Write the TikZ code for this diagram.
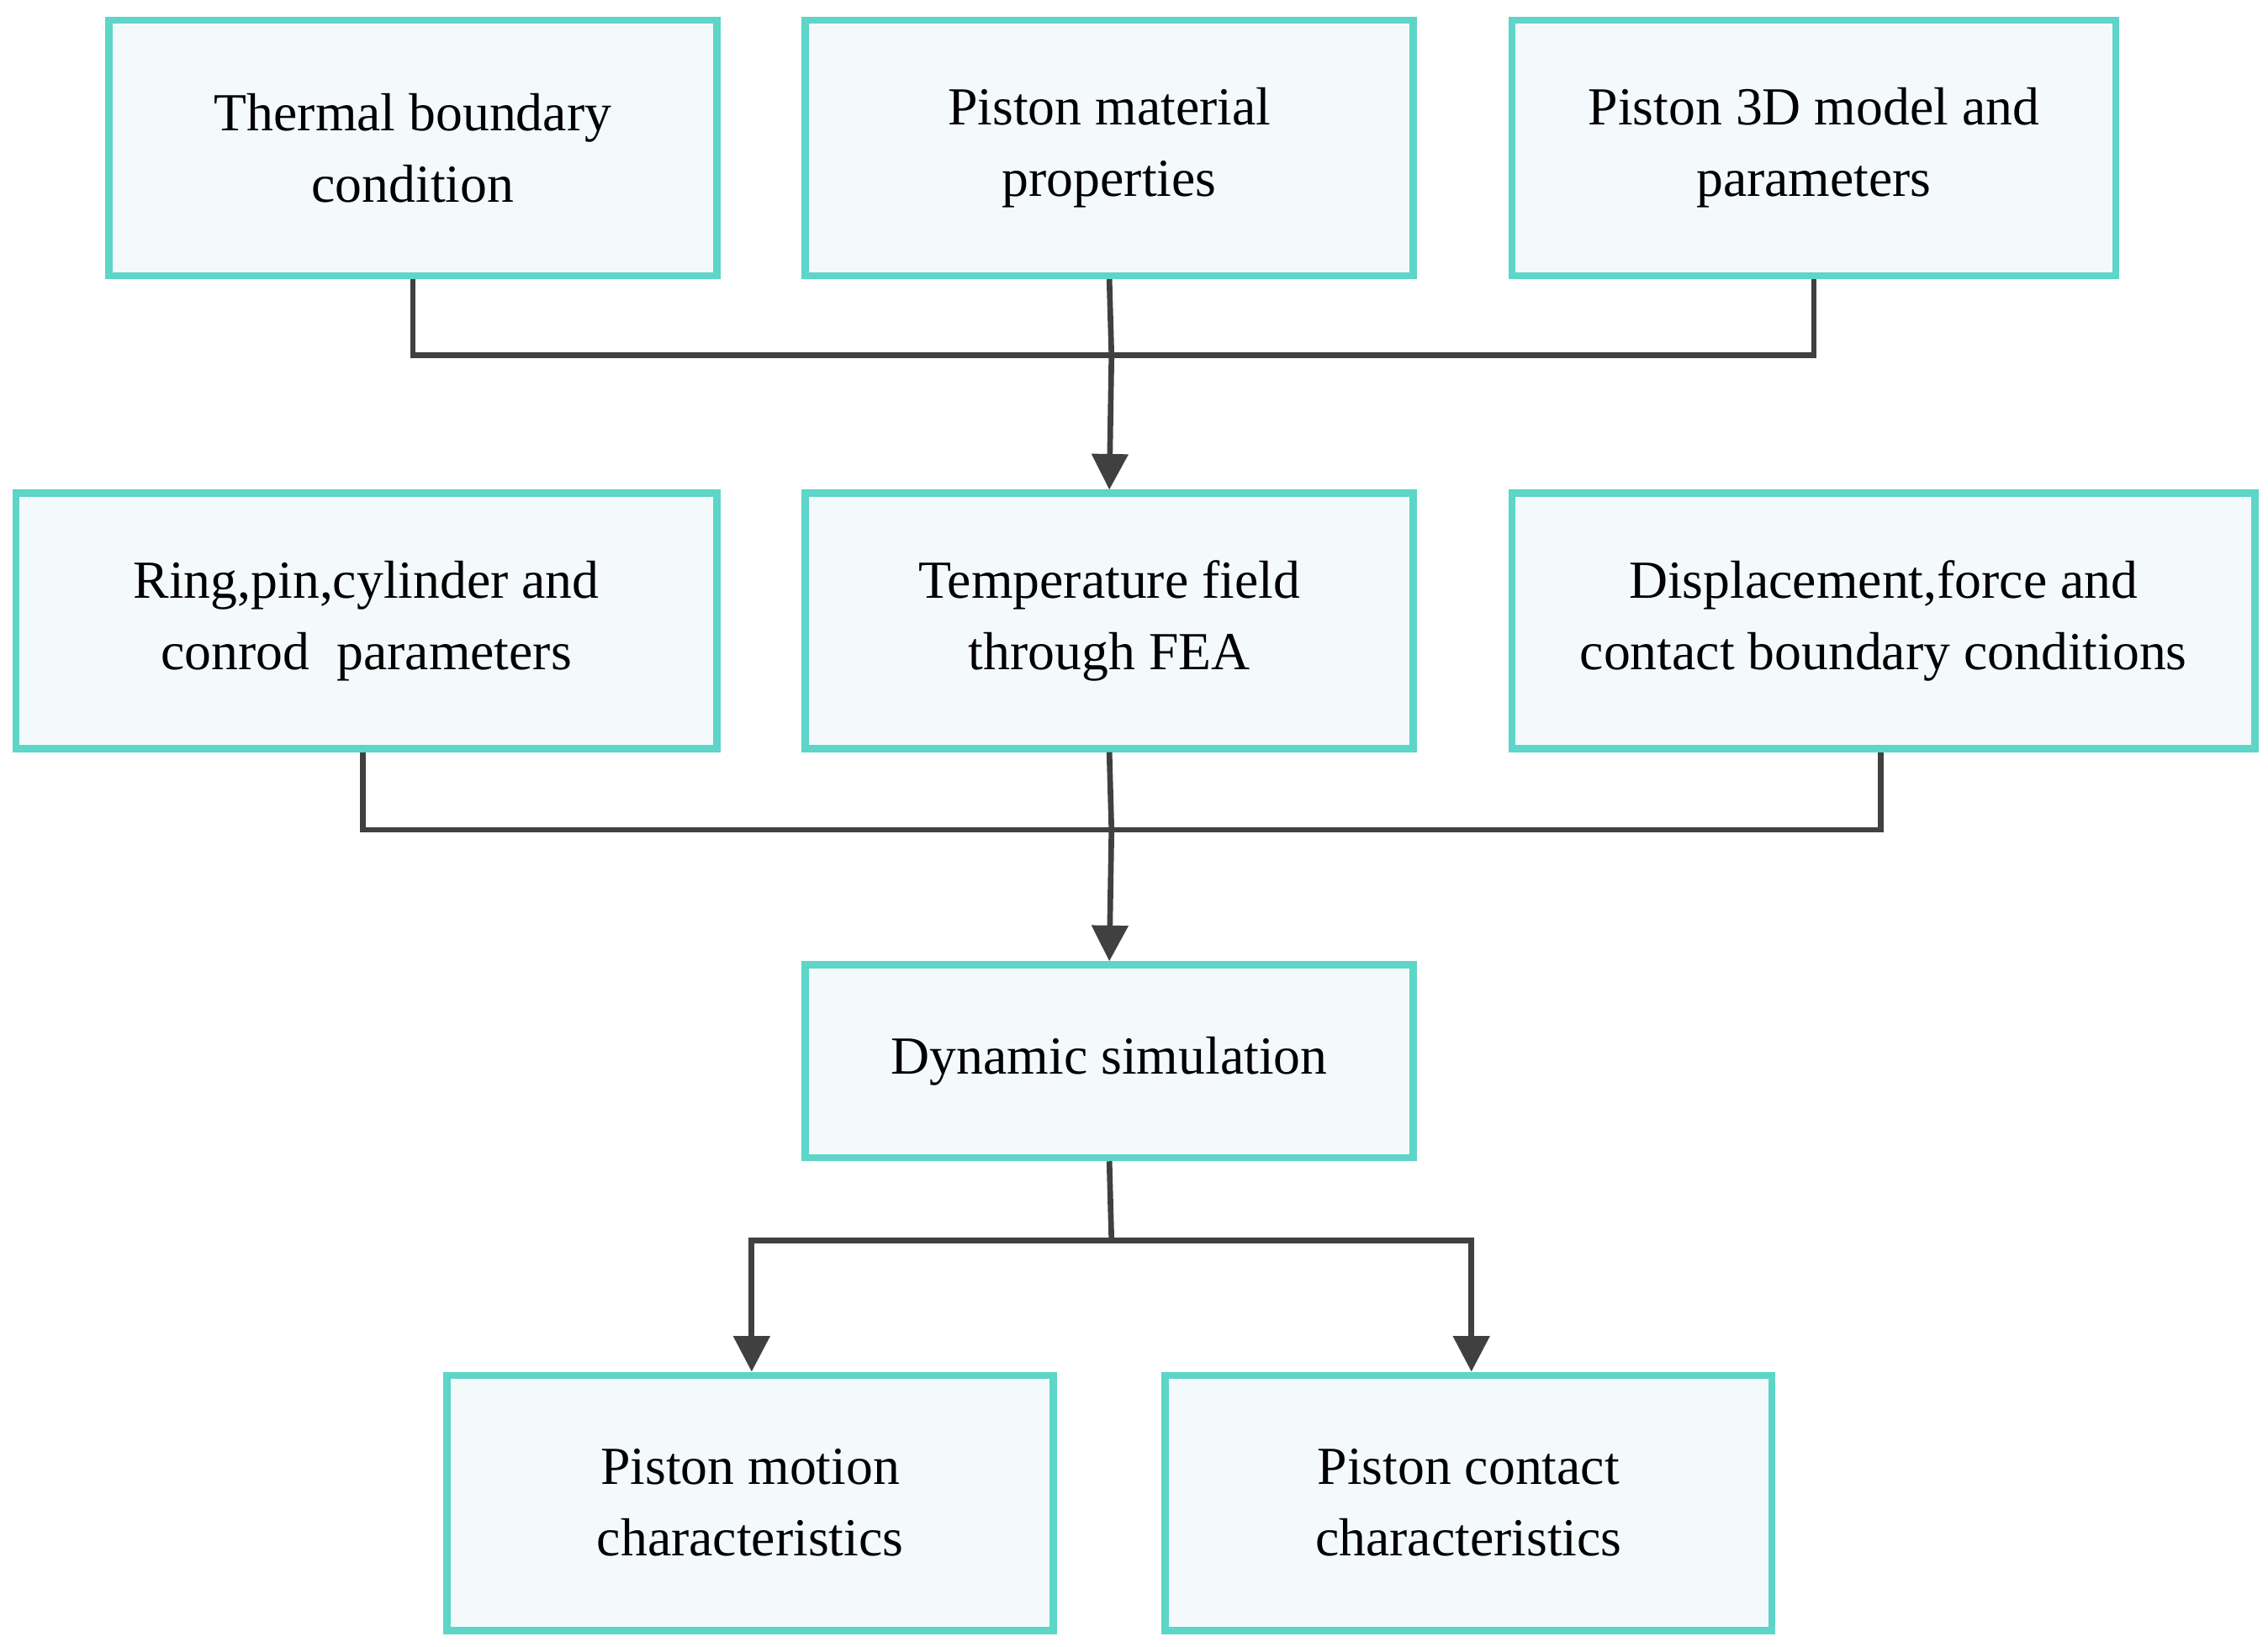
\documentclass[tikz,border=0pt]{standalone}
\usepackage{fontspec}
\setmainfont{Liberation Serif}
\usetikzlibrary{arrows.meta}
\definecolor{bord}{RGB}{93,213,200}
\definecolor{fillc}{RGB}{244,250,251}
\definecolor{linec}{RGB}{64,64,64}
\begin{document}
\begin{tikzpicture}[x=0.01cm,y=-0.01cm,
  box/.style={draw=bord,fill=fillc,line width=1.4pt,inner sep=0pt,align=center,font=\fontsize{10.5}{14}\selectfont},
  conn/.style={draw=linec,line width=1.1pt},
  arr/.style={conn,-{Triangle[length=7pt,width=7pt]}}]
\useasboundingbox (0,0) rectangle (1563,1135);
\newcommand{\bx}[6]{\node[box,minimum width=#4*0.01cm-#2*0.01cm,minimum height=#5*0.01cm-#3*0.01cm] (#1) at ({(#2+#4)/2},{(#3+#5)/2}) {#6};}
\bx{a}{75}{14}{494}{190}{Thermal boundary\\condition}
\bx{b}{555}{14}{974}{190}{Piston material\\properties}
\bx{c}{1042}{14}{1458}{190}{Piston 3D model and\\parameters}
\bx{d}{11}{340}{494}{516}{Ring,pin,cylinder and\\conrod\ \ parameters}
\bx{e}{555}{340}{974}{516}{Temperature field\\through FEA}
\bx{f}{1042}{340}{1554}{516}{Displacement,force and\\contact boundary conditions}
\bx{g}{555}{665}{974}{798}{Dynamic simulation}
\bx{h}{308}{948}{726}{1124}{Piston motion\\characteristics}
\bx{i}{803}{948}{1221}{1124}{Piston contact\\characteristics}
\coordinate (j1) at (766,245);
\coordinate (j2) at (766,572);
\coordinate (j3) at (766,855);
\draw[conn] (a.south) -- (a.south |- j1) -- (c.south |- j1) -- (c.south);
\draw[conn] (b.south) -- (j1);
\draw[arr] (j1) -- (e.north);
\draw[conn] (d.south -| 250,0) -- (250,572) -- (1296,572) -- (f.south -| 1296,0);
\draw[conn] (e.south) -- (j2);
\draw[arr] (j2) -- (g.north);
\draw[conn] (g.south) -- (j3);
\draw[arr] (j3) -- (518,855) -- (h.north -| 518,0);
\draw[arr] (j3) -- (1014,855) -- (i.north -| 1014,0);
\end{tikzpicture}
\end{document}
